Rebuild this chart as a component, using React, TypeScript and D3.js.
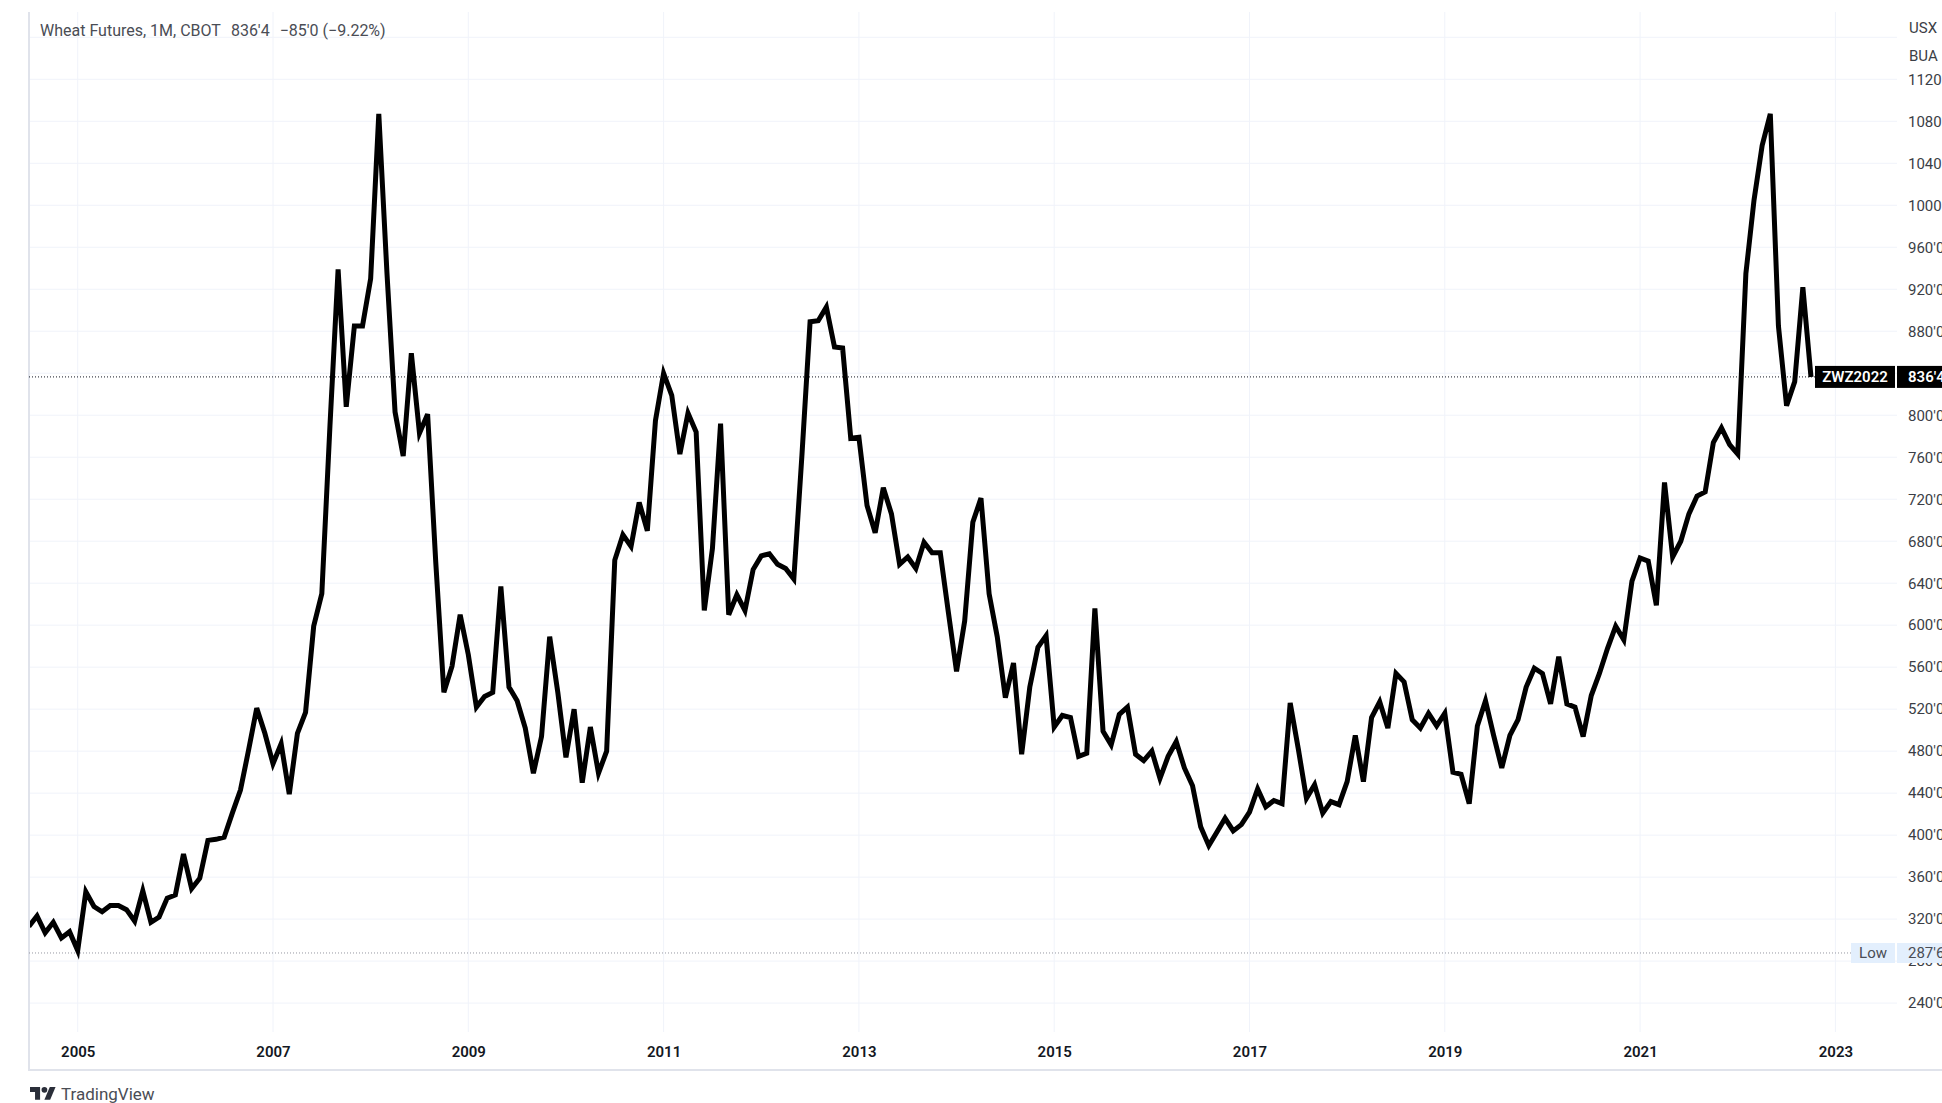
import React, { useRef, useEffect } from 'react';
import * as d3 from 'd3';

// legend / labels
const title = 'Wheat Futures, 1M, CBOT';
const lastText = "836'4";
const changeText = "\u221285'0 (\u22129.22%)";
const symbol = 'ZWZ2022';
const lastClose = 836.5;
const lowClose = 287.75;
const lowText = "287'6";
const unitLines = ['USX', 'BUA'];

// monthly closes, first bar = Jul 2004, last bar = Oct 2022
const firstMonth = new Date(2004, 6, 1);
const closes = [
  313, 323, 307, 317, 302, 308,
  290, 346, 332, 327, 333, 333, 329, 318, 347, 317, 322, 340,
  343, 382, 349, 359, 395, 396, 398, 421, 443, 481, 521, 497,
  468, 487, 439, 497, 517, 599, 630, 790, 939, 808, 885, 885,
  930, 1087, 936, 803, 761, 859, 783, 801, 660, 536, 561, 610,
  572, 522, 532, 536, 637, 541, 528, 502, 459, 494, 589, 536,
  474, 520, 450, 503, 459, 480, 662, 686, 675, 717, 690, 795,
  840, 819, 763, 802, 784, 614, 673, 792, 610, 629, 614, 653,
  666, 668, 658, 654, 644, 762, 889, 890, 903, 865, 864, 778,
  779, 714, 688, 731, 706, 658, 665, 654, 679, 669, 669, 612,
  556, 604, 698, 721, 630, 589, 531, 564, 477, 541, 579, 590,
  503, 514, 512, 475, 478, 616, 499, 486, 515, 522, 477, 471,
  480, 454, 475, 489, 464, 447, 408, 390, 403, 416, 404, 410,
  422, 444, 427, 433, 430, 526, 482, 435, 448, 421, 432, 429,
  451, 495, 451, 512, 527, 502, 554, 546, 510, 502, 516, 504,
  516, 460, 458, 430, 504, 528, 495, 464, 495, 510, 541, 559,
  554, 525, 570, 525, 522, 494, 533, 554, 578, 599, 586, 642,
  664, 661, 619, 736, 665, 680, 706, 723, 727, 774, 788, 772,
  763, 935, 1005, 1057, 1087, 885, 809, 832, 922, 836.5,
];

const yearTicks = [2005, 2007, 2009, 2011, 2013, 2015, 2017, 2019, 2021, 2023];
const priceTicks = [240, 280, 320, 360, 400, 440, 480, 520, 560, 600, 640, 680, 720,
  760, 800, 840, 880, 920, 960, 1000, 1040, 1080, 1120];
const gridOnlyTicks = [1160];

const W = 1942;
const H = 1103;
const font = 'Roboto, "Noto Sans", sans-serif';

const WheatChart = () => {
  const ref = useRef<SVGSVGElement>(null);

  useEffect(() => {
    const svg = d3.select(ref.current);
    svg.selectAll('*').remove();

    const pane = { left: 29, top: 12, right: 1897, bottom: 1032 };

    // bar index -> x (TradingView spaces bars evenly)
    const monthIndex = (d: Date) => d3.timeMonth.count(firstMonth, d);
    const x = d3.scaleLinear()
      .domain([monthIndex(new Date(2005, 0, 1)), monthIndex(new Date(2023, 0, 1))])
      .range([77.7, 1835.4]);
    const y = d3.scaleLinear().domain([240, 1120]).range([1003.1, 79.3]);

    svg.append('rect').attr('width', W).attr('height', H).attr('fill', '#ffffff');

    svg.append('defs').append('clipPath').attr('id', 'pane-clip')
      .append('rect')
      .attr('x', pane.left + 1).attr('y', pane.top)
      .attr('width', pane.right - pane.left - 1).attr('height', pane.bottom - pane.top);

    // grid
    const yearIdx = yearTicks.map(yr => monthIndex(new Date(yr, 0, 1)));
    svg.append('g').selectAll('line').data(yearIdx).join('line')
      .attr('x1', d => x(d)).attr('x2', d => x(d))
      .attr('y1', pane.top).attr('y2', pane.bottom)
      .attr('stroke', '#f0f3fa').attr('stroke-width', 1);
    svg.append('g').selectAll('line').data([...priceTicks, ...gridOnlyTicks]).join('line')
      .attr('x1', pane.left).attr('x2', pane.right)
      .attr('y1', d => y(d)).attr('y2', d => y(d))
      .attr('stroke', '#f0f3fa').attr('stroke-width', 1);

    // borders
    svg.append('line').attr('x1', pane.left).attr('x2', pane.left)
      .attr('y1', pane.top).attr('y2', 1070)
      .attr('stroke', '#e0e3eb').attr('stroke-width', 2);
    svg.append('line').attr('x1', pane.left - 1).attr('x2', W)
      .attr('y1', 1070).attr('y2', 1070)
      .attr('stroke', '#e0e3eb').attr('stroke-width', 2);

    // price lines
    svg.append('line').attr('x1', pane.left).attr('x2', 1815)
      .attr('y1', y(lastClose)).attr('y2', y(lastClose))
      .attr('stroke', '#131722').attr('stroke-width', 1).attr('stroke-dasharray', '1,2');
    svg.append('line').attr('x1', pane.left).attr('x2', 1851)
      .attr('y1', y(lowClose)).attr('y2', y(lowClose))
      .attr('stroke', '#9598a1').attr('stroke-width', 1).attr('stroke-dasharray', '1,2');

    // series
    const line = d3.line<number>()
      .x((_, i) => x(i))
      .y(d => y(d));
    svg.append('path')
      .datum(closes)
      .attr('clip-path', 'url(#pane-clip)')
      .attr('d', line)
      .attr('fill', 'none')
      .attr('stroke', '#000000')
      .attr('stroke-width', 5)
      .attr('stroke-linejoin', 'miter');

    // time axis
    const xAxis = svg.append('g')
      .attr('transform', `translate(0,${pane.bottom})`)
      .call(d3.axisBottom(x).tickValues(yearIdx).tickSize(0).tickPadding(14)
        .tickFormat((_, i) => String(yearTicks[i])));
    xAxis.select('.domain').remove();
    xAxis.selectAll('text')
      .attr('font-family', font).attr('font-size', 15).attr('font-weight', 600)
      .attr('fill', '#131722');

    // price axis
    const yAxis = svg.append('g')
      .attr('transform', `translate(${pane.right},0)`)
      .call(d3.axisRight(y).tickValues(priceTicks).tickSize(0).tickPadding(11)
        .tickFormat(d => `${d}'0`));
    yAxis.select('.domain').remove();
    yAxis.selectAll('text')
      .attr('font-family', font).attr('font-size', 15)
      .attr('fill', '#3b3e46');

    svg.append('g').selectAll('text').data(unitLines).join('text')
      .attr('x', 1909).attr('y', (_, i) => 33 + i * 28)
      .attr('font-family', font).attr('font-size', 15).attr('fill', '#3b3e46')
      .text(d => d);

    // last price labels
    const yl = y(lastClose);
    svg.append('rect').attr('x', 1815).attr('y', yl - 11).attr('width', 80).attr('height', 22)
      .attr('fill', '#000000');
    svg.append('text').attr('x', 1855).attr('y', yl + 5.5).attr('text-anchor', 'middle')
      .attr('font-family', font).attr('font-size', 15).attr('font-weight', 600)
      .attr('fill', '#ffffff').text(symbol);
    svg.append('rect').attr('x', 1897).attr('y', yl - 11).attr('width', 60).attr('height', 22)
      .attr('fill', '#000000');
    svg.append('text').attr('x', 1908).attr('y', yl + 5.5)
      .attr('font-family', font).attr('font-size', 15).attr('font-weight', 600)
      .attr('fill', '#ffffff').text(lastText);

    // low labels
    const ylo = y(lowClose);
    svg.append('rect').attr('x', 1851).attr('y', ylo - 10).attr('width', 44).attr('height', 20)
      .attr('fill', '#e3effd');
    svg.append('text').attr('x', 1873).attr('y', ylo + 5.5).attr('text-anchor', 'middle')
      .attr('font-family', font).attr('font-size', 15).attr('fill', '#4a4d55').text('Low');
    svg.append('rect').attr('x', 1897).attr('y', ylo - 10).attr('width', 60).attr('height', 20)
      .attr('fill', '#e3effd');
    svg.append('text').attr('x', 1908).attr('y', ylo + 5.5)
      .attr('font-family', font).attr('font-size', 15).attr('fill', '#4a4d55').text(lowText);

    // legend
    const legend = svg.append('text').attr('x', 40).attr('y', 36)
      .attr('font-family', font).attr('font-size', 16).attr('fill', '#4a4d55');
    legend.append('tspan').text(title);
    legend.append('tspan').attr('dx', 10).text(lastText);
    legend.append('tspan').attr('dx', 10).text(changeText);

    // watermark
    const logo = svg.append('g').attr('transform', 'translate(30,1084) scale(0.72)')
      .attr('fill', '#2a2e39');
    logo.append('path').attr('d', 'M14 22H7V11H0V4h14v18z');
    logo.append('circle').attr('cx', 20).attr('cy', 8).attr('r', 4);
    logo.append('path').attr('d', 'M28 22h-8l7.5-18h8L28 22z');
    svg.append('text').attr('x', 61).attr('y', 1100)
      .attr('font-family', font).attr('font-size', 17).attr('fill', '#4a4d55')
      .text('TradingView');
  }, []);

  return (
    <svg
      ref={ref}
      width={W}
      height={H}
      style={{ position: 'absolute', left: 0, top: 0, display: 'block' }}
    />
  );
};

export default function App() {
  return <WheatChart />;
}
